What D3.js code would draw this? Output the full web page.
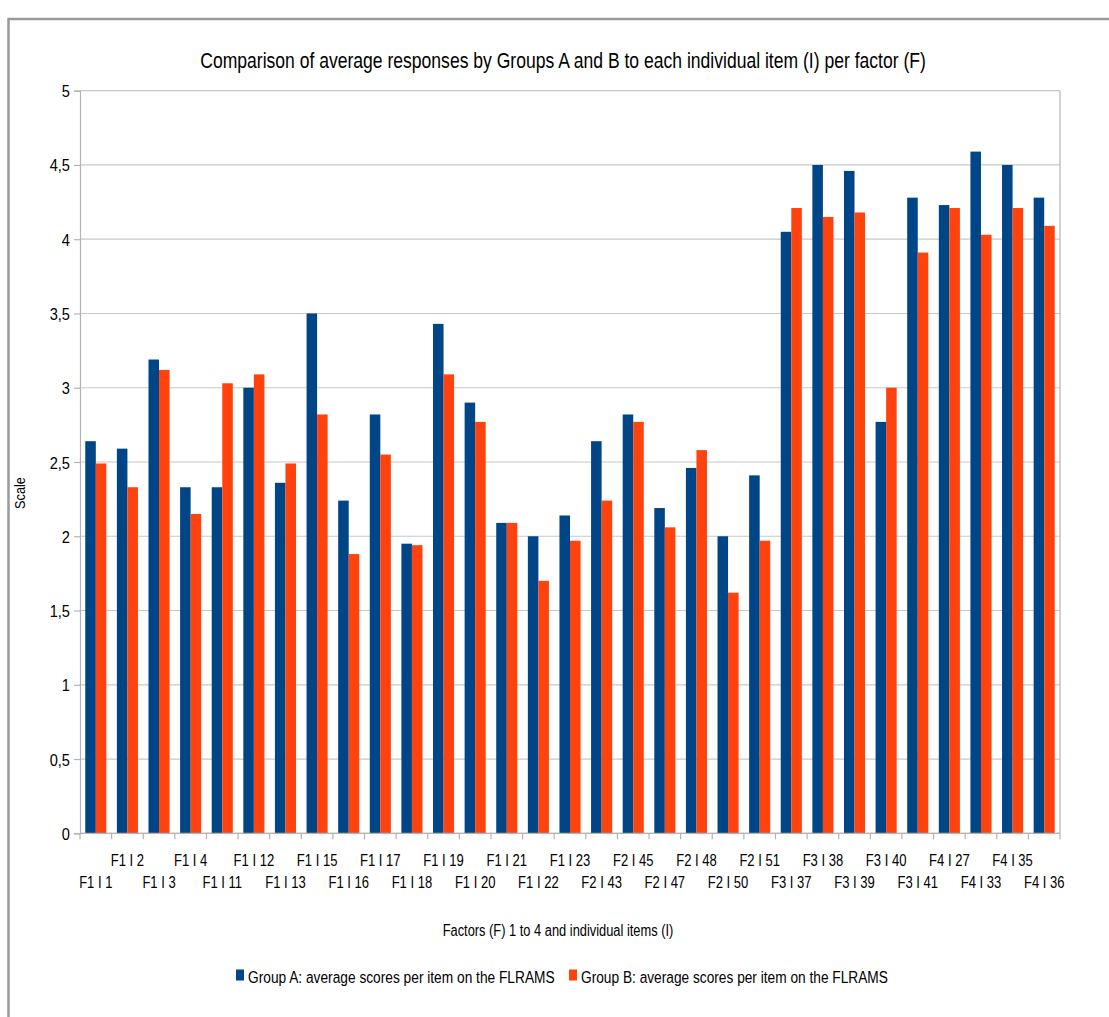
<!DOCTYPE html>
<html>
<head>
<meta charset="utf-8">
<script src="https://cdn.jsdelivr.net/npm/d3@7"></script>
<style>
  html, body { margin: 0; padding: 0; background: #fff; }
  svg text { font-family: "Liberation Sans", Arial, sans-serif; fill: #000; }
</style>
</head>
<body>
<svg id="chart" width="1109" height="1017"></svg>
<script>
const categories = ["F1 I 1","F1 I 2","F1 I 3","F1 I 4","F1 I 11","F1 I 12","F1 I 13","F1 I 15","F1 I 16","F1 I 17","F1 I 18","F1 I 19","F1 I 20","F1 I 21","F1 I 22","F1 I 23","F2 I 43","F2 I 45","F2 I 47","F2 I 48","F2 I 50","F2 I 51","F3 I 37","F3 I 38","F3 I 39","F3 I 40","F3 I 41","F4 I 27","F4 I 33","F4 I 35","F4 I 36"];
const groupA = [2.64,2.59,3.19,2.33,2.33,3.00,2.36,3.50,2.24,2.82,1.95,3.43,2.90,2.09,2.00,2.14,2.64,2.82,2.19,2.46,2.00,2.41,4.05,4.50,4.46,2.77,4.28,4.23,4.59,4.50,4.28];
const groupB = [2.49,2.33,3.12,2.15,3.03,3.09,2.49,2.82,1.88,2.55,1.94,3.09,2.77,2.09,1.70,1.97,2.24,2.77,2.06,2.58,1.62,1.97,4.21,4.15,4.18,3.00,3.91,4.21,4.03,4.21,4.09];
const seriesNames = ["Group A: average scores per item on the FLRAMS","Group B: average scores per item on the FLRAMS"];
const seriesColors = ["#004586","#ff420e"];
const yTicks = [0,0.5,1,1.5,2,2.5,3,3.5,4,4.5,5];
const title = "Comparison of average responses by Groups A and B to each individual item (I) per factor (F)";
const xTitle = "Factors (F) 1 to 4 and individual items (I)";
const yTitle = "Scale";

(function () {
const svg = d3.select("#chart");
const pLeft = 80, pRight = 1060, pTop = 90.7, pBottom = 833.3;

// narrow-font emulation: horizontal squeeze around the anchor point
function narrowAt(sel, xf, yf, sx) {
  sel.attr("x", 0).attr("y", 0)
     .attr("transform", (d, i) => `translate(${xf(d, i)},${yf(d, i)}) scale(${sx},1)`);
}
// squeeze a single text to a target width
function fitText(t, xPos, yPos, width) {
  t.attr("x", 0).attr("y", 0);
  const w = t.node().getComputedTextLength();
  t.attr("transform", `translate(${xPos},${yPos}) scale(${width / w},1)`);
}

// frame
svg.append("path").attr("d", `M8.5,1017 V19 H1109`).attr("fill","none").attr("stroke","#9a9a9a").attr("stroke-width",2.5);

const x = d3.scaleBand().domain(categories).range([pLeft, pRight]).paddingInner(0.333).paddingOuter(0.1665);
const xs = d3.scaleBand().domain([0,1]).range([0, x.bandwidth()]);
const y = d3.scaleLinear().domain([0,5]).range([pBottom, pTop]);

const fmt = d => String(d).replace(".", ",");

// gridlines
svg.append("g").selectAll("line").data(yTicks).join("line")
  .attr("x1", pLeft).attr("x2", pRight)
  .attr("y1", d => y(d)).attr("y2", d => y(d))
  .attr("stroke", "#c8c8c8").attr("stroke-width", 1.2);

svg.append("line").attr("x1", pRight).attr("x2", pRight).attr("y1", pTop).attr("y2", pBottom).attr("stroke","#b3b3b3").attr("stroke-width",1.2);

// bars
const data = [groupA, groupB];
data.forEach((vals, si) => {
  svg.append("g").selectAll("rect").data(vals).join("rect")
    .attr("x", (d,i) => x(categories[i]) + xs(si))
    .attr("width", xs.bandwidth())
    .attr("y", d => y(d))
    .attr("height", d => y(0) - y(d))
    .attr("fill", seriesColors[si]);
});

// y axis
const yAxis = svg.append("g").attr("transform", `translate(${pLeft},0)`)
  .call(d3.axisLeft(y).tickValues(yTicks).tickFormat(fmt).tickSize(6).tickPadding(5));
yAxis.attr("font-family", null).attr("font-size", null);
yAxis.select(".domain").attr("stroke","#b3b3b3").attr("stroke-width",1.2);
yAxis.selectAll(".tick line").attr("stroke","#b3b3b3").attr("stroke-width",1.2);
const yt = yAxis.selectAll(".tick text").attr("font-size", 17).attr("dy", null).style("fill","#000");
narrowAt(yt, () => -10, () => 6, 0.86);

// x axis line and ticks at category boundaries
const step = x.step();
const boundaries = categories.map((c,i) => pLeft + i*step).concat([pRight]);
svg.append("line").attr("x1", pLeft).attr("x2", pRight).attr("y1", pBottom).attr("y2", pBottom).attr("stroke","#b3b3b3").attr("stroke-width",1.2);
svg.append("g").selectAll("line").data(boundaries).join("line")
  .attr("x1", d => d).attr("x2", d => d).attr("y1", pBottom).attr("y2", pBottom + 6)
  .attr("stroke","#b3b3b3").attr("stroke-width",1.2);

// x labels, staggered
const xl = svg.append("g").selectAll("text").data(categories).join("text")
  .attr("text-anchor","middle").attr("font-size", 16.5)
  .text(d => d);
narrowAt(xl, d => x(d) + x.bandwidth()/2, (d,i) => i % 2 === 0 ? 888 : 866, 0.79);

// titles
fitText(svg.append("text").attr("text-anchor","middle").attr("font-size", 22).text(title), 563, 68, 726);
fitText(svg.append("text").attr("text-anchor","middle").attr("font-size", 16).text(xTitle), 558, 936, 231);
svg.append("text").attr("transform", "translate(25,493) rotate(-90) scale(0.85,1)").attr("text-anchor","middle").attr("font-size", 15).text(yTitle);

// legend
const legendX = [236, 569];
seriesNames.forEach((n, i) => {
  svg.append("rect").attr("x", legendX[i]).attr("y", 969.5).attr("width", 8).attr("height", 11).attr("fill", seriesColors[i]);
  fitText(svg.append("text").attr("font-size", 17).text(n), legendX[i] + 12, 983, 307);
});
})();
</script>
</body>
</html>
